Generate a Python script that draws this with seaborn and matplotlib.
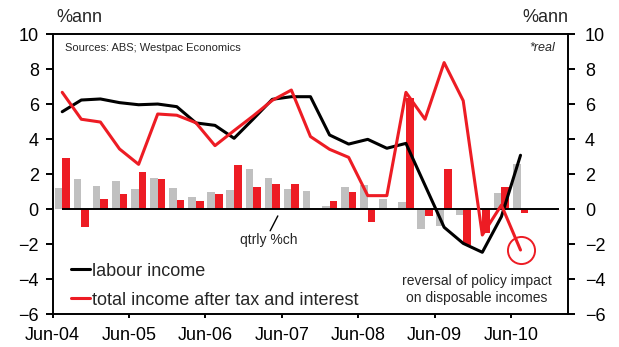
import numpy as np
import pandas as pd
import matplotlib
matplotlib.use("Agg")
import matplotlib.pyplot as plt
import seaborn as sns

# Quarterly categories on the x axis (data run Jun-04 .. Jun-10)
quarters = ["Jun-04", "Sep-04", "Dec-04", "Mar-05", "Jun-05", "Sep-05", "Dec-05",
            "Mar-06", "Jun-06", "Sep-06", "Dec-06", "Mar-07", "Jun-07", "Sep-07",
            "Dec-07", "Mar-08", "Jun-08", "Sep-08", "Dec-08", "Mar-09", "Jun-09",
            "Sep-09", "Dec-09", "Mar-10", "Jun-10", "Sep-10", "Dec-10"]
tick_labels = ["Jun-04", "Jun-05", "Jun-06", "Jun-07", "Jun-08", "Jun-09", "Jun-10"]

# Annual % change (lines)
labour_ann = [5.57, 6.24, 6.30, 6.09, 5.97, 6.01, 5.86, 4.93, 4.79, 4.05, 5.15, 6.28, 6.43,
              6.43, 4.24, 3.72, 3.99, 3.48, 3.76, 1.36, -1.04, -1.96, -2.47, -0.43, 3.08]
total_ann = [6.68, 5.14, 4.98, 3.44, 2.56, 5.44, 5.37, 4.94, 3.63, 4.49, 5.33, 6.22, 6.81,
             4.15, 3.42, 2.96, 0.77, 0.77, 6.68, 5.14, 8.38, 6.20, -1.48, 0.23, -2.34]

# Quarterly % change (bars)
labour_q = [1.23, 1.72, 1.32, 1.61, 1.15, 1.76, 1.19, 0.71, 0.96, 1.09, 2.28, 1.76, 1.14,
            1.06, 0.18, 1.26, 1.38, 0.58, 0.41, -1.16, -0.97, -0.32, -0.05, 0.90, 2.56]
total_q = [2.91, -1.00, 0.60, 0.86, 2.10, 1.70, 0.52, 0.46, 0.85, 2.52, 1.24, 1.42, 1.42,
           0.03, 0.49, 0.98, -0.72, 0.01, 6.34, -0.40, 2.28, -2.08, -1.35, 1.25, -0.24]

series_names = ["labour income", "total income after tax and interest"]

RED = "#ED1C24"
GREY = "#C0C0C0"

sns.set_theme(style="white")
plt.rcParams["font.family"] = ["Liberation Sans", "DejaVu Sans"]

n = len(labour_ann)
pos = np.arange(n)

bars = pd.DataFrame({
    "pos": np.concatenate([pos, pos]),
    "value": labour_q + total_q,
    "series": [series_names[0]] * n + [series_names[1]] * n,
})

fig = plt.figure(figsize=(6.19, 3.47), dpi=100)
ax = fig.add_axes([0.0851, 0.0951, 0.8329, 0.8061])

sns.barplot(data=bars, x="pos", y="value", hue="series", hue_order=series_names,
            palette=[GREY, RED], native_scale=True, width=0.8, dodge=True,
            saturation=1, errorbar=None, legend=False, linewidth=0, ax=ax)

ax.hlines(0, 0, len(quarters) - 1, color="black", lw=1.4, zorder=3)

sns.lineplot(x=pos, y=labour_ann, color="black", lw=2.2, ax=ax, zorder=4,
             label=series_names[0])
sns.lineplot(x=pos, y=total_ann, color=RED, lw=2.2, ax=ax, zorder=5,
             label=series_names[1])

# circle highlighting the latest quarter
ax.plot([pos[-1]], [total_ann[-1]], marker="o", ms=19.5, mfc="none", mec=RED,
        mew=1.4, zorder=6)

ax.set_xlim(-0.5, len(quarters) - 0.5)
ax.set_ylim(-6, 10)
ax.set_xticks([quarters.index(t) - 0.5 for t in tick_labels])
ax.set_xticklabels(tick_labels)
ax.set_yticks(range(-6, 11, 2))
ax.set_xlabel("")
ax.set_ylabel("")

for s in ax.spines.values():
    s.set_color("black")
    s.set_linewidth(1.4)
    s.set_visible(True)

ax.tick_params(axis="x", direction="out", length=3, width=1.4, colors="black",
               labelsize=13, pad=6, bottom=True)
ax.tick_params(axis="y", direction="out", length=5, width=1.4, colors="black",
               labelsize=13, pad=5, left=True)

ax2 = ax.twinx()
ax2.set_ylim(ax.get_ylim())
ax2.set_yticks(range(-6, 11, 2))
ax2.tick_params(axis="y", direction="out", length=5, width=1.4, colors="black",
                labelsize=13, pad=7, right=True)
for s in ax2.spines.values():
    s.set_visible(False)
ax2.grid(False)
ax.grid(False)

leg = ax.legend(loc="upper left", bbox_to_anchor=(0.0349, 0.1838), frameon=False,
                fontsize=13, handlelength=1.07, handletextpad=0.1, borderpad=0,
                borderaxespad=0, labelspacing=0.67)

fig.text(0.0905, 0.951, "%ann", fontsize=13, ha="left", va="center")
fig.text(0.9176, 0.951, "%ann", fontsize=13, ha="right", va="center")
ax.text(0.0239, 0.951, "Sources: ABS; Westpac Economics", transform=ax.transAxes,
        fontsize=8, ha="left", va="center")
ax.text(0.974, 0.951, "*real", transform=ax.transAxes, fontsize=9, style="italic",
        ha="right", va="center")

ax.text(10.8, -1.77, "qtrly %ch", fontsize=10, ha="center", va="center")
ax.plot([11.29, 10.89], [-0.39, -1.24], color="black", lw=1.0)
ax.text(21.74, -4.11, "reversal of policy impact", fontsize=10, ha="center", va="center")
ax.text(21.69, -5.09, "on disposable incomes", fontsize=10, ha="center", va="center")

fig.savefig("out.png", dpi=100)
